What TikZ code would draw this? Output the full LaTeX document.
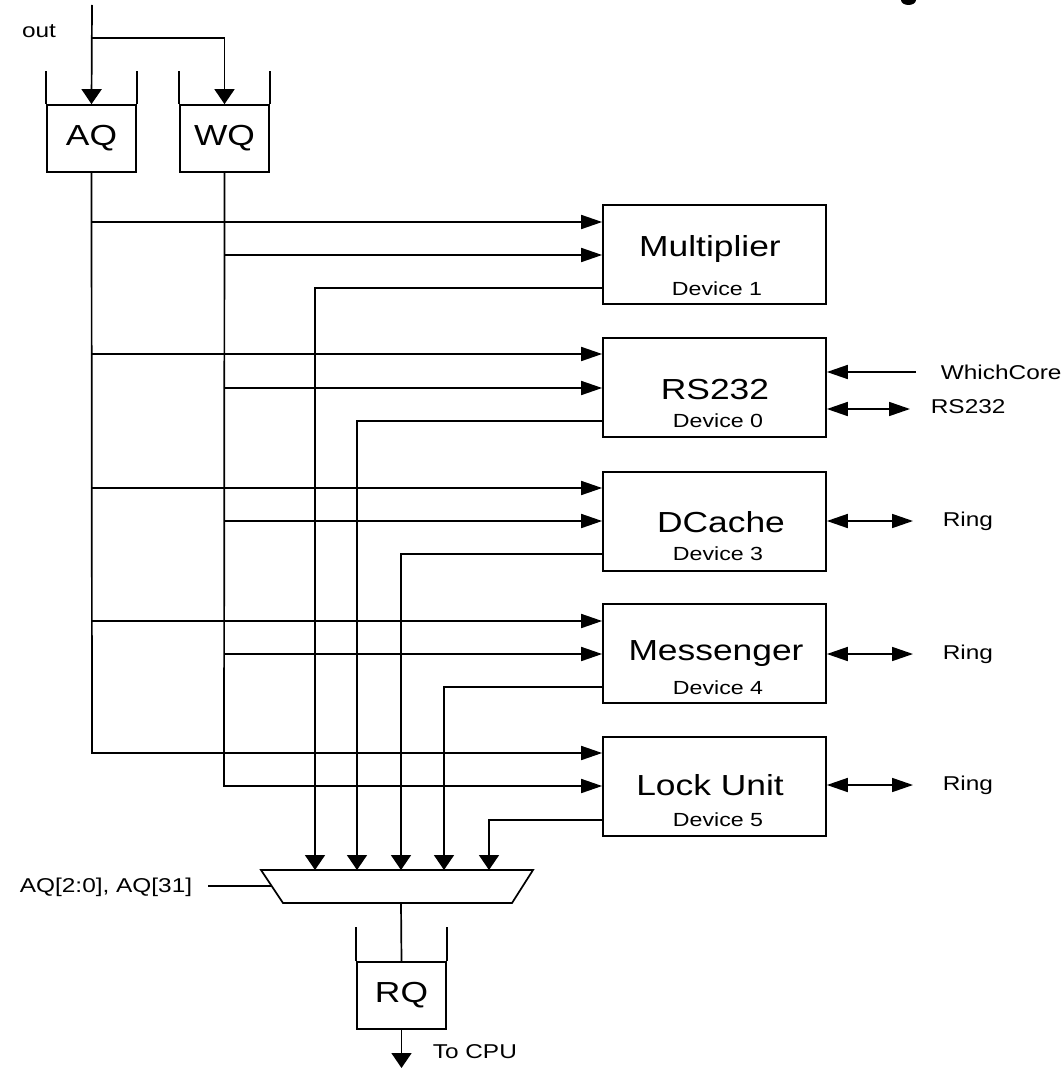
\documentclass[tikz,border=0pt]{standalone}
\usepackage{fontspec}
\setmainfont{Liberation Sans}[FakeStretch=1.22]
\usetikzlibrary{arrows.meta}
\begin{document}
\begin{tikzpicture}[x=1pt,y=-1pt,
  line width=1.7pt,
  harr/.style={-{Triangle[length=21pt,width=14pt]}},
  varr/.style={-{Triangle[length=15pt,width=20pt]}},
  biarr/.style={{Triangle[length=21pt,width=14pt]}-{Triangle[length=21pt,width=14pt]}},
  qbox/.style={draw,minimum width=89pt,minimum height=67pt,inner sep=0pt,font=\fontsize{29}{34}\selectfont},
  devbox/.style={draw,minimum width=223pt,minimum height=99pt,inner sep=0pt},
  title/.style={font=\fontsize{29}{34}\selectfont,inner sep=0pt},
  devlab/.style={font=\fontsize{19}{23}\selectfont,inner sep=0pt},
  lab/.style={font=\fontsize{20}{24}\selectfont,inner sep=0pt}]
\useasboundingbox (0,0) rectangle (1061,1070);
\fill[white] (0,0) rectangle (1061,1070);

% cut-off fragment top right
\fill[black] (908.5,0) ellipse [x radius=7.5, y radius=5];

% queues
\node[qbox] (AQ) at (91.5,138.5) {AQ};
\node[qbox] (WQ) at (224.5,138.5) {WQ};
\node[qbox] (RQ) at (401.5,995.5) {RQ};
\draw (AQ.north west) -- ++(0,-33) (AQ.north east) -- ++(0,-33);
\draw (WQ.north west) -- ++(0,-33) (WQ.north east) -- ++(0,-33);
\draw (RQ.north west) -- ++(0,-34) (RQ.north east) -- ++(0,-34);

% input
\coordinate (in) at (92,5);
\node[lab,anchor=center] (outlab) at (39,31) {out};
\draw[varr] (in) -- (AQ.north);
\coordinate (split) at (92,38);
\draw[varr] (split) -| (WQ.north);

% devices
\node[devbox] (mult) at (714.5,254.5) {};
\node[devbox] (rs)   at (714.5,387.5) {};
\node[devbox] (dc)   at (714.5,521.5) {};
\node[devbox] (msg)  at (714.5,653.5) {};
\node[devbox] (lock) at (714.5,786.5) {};

\node[title] (t1) at (710,249) {Multiplier};
\node[devlab] (d1) at (717,289) {Device 1};
\node[title] (t0) at (715,390) {RS232};
\node[devlab] (d0) at (718,421) {Device 0};
\node[title] (t3) at (721,522) {DCache};
\node[devlab] (d3) at (718,554) {Device 3};
\node[title] (t4) at (716,654) {Messenger};
\node[devlab] (d4) at (718,688) {Device 4};
\node[title] (t5) at (710,785) {Lock Unit};
\node[devlab] (d5) at (718,820) {Device 5};

% AQ trunk and branches
\draw[harr] (AQ.south) -- (92,753) -- (lock.west |- 0,753);
\draw[harr] (92,222) -- (mult.west |- 0,222);
\draw[harr] (92,354) -- (rs.west |- 0,354);
\draw[harr] (92,488) -- (dc.west |- 0,488);
\draw[harr] (92,621) -- (msg.west |- 0,621);

% WQ trunk and branches
\draw[harr] (WQ.south) -- (224,786) -- (lock.west |- 0,786);
\draw[harr] (224,255) -- (mult.west |- 0,255);
\draw[harr] (224,388) -- (rs.west |- 0,388);
\draw[harr] (224,521) -- (dc.west |- 0,521);
\draw[harr] (224,654) -- (msg.west |- 0,654);

% mux
\coordinate (mTL) at (261,870);
\coordinate (mTR) at (533,870);
\coordinate (mBR) at (512,903);
\coordinate (mBL) at (283,903);
\draw (mTL) -- (mTR) -- (mBR) -- (mBL) -- cycle;
\coordinate (m1) at (315,870);
\coordinate (m2) at (357,870);
\coordinate (m3) at (401,870);
\coordinate (m4) at (444,870);
\coordinate (m5) at (489,870);
\coordinate (mL) at (271,886);
\coordinate (mOut) at (401,903);

\draw[varr] (mult.west |- 0,288) -| (m1);
\draw[varr] (rs.west |- 0,421) -| (m2);
\draw[varr] (dc.west |- 0,554) -| (m3);
\draw[varr] (msg.west |- 0,687) -| (m4);
\draw[varr] (lock.west |- 0,820) -| (m5);

\node[lab] (ctrl) at (106,887) {AQ[2:0], AQ[31]};
\draw (208,886) -- (mL);

\draw (mOut) -- (RQ.north);
\coordinate (cpu) at (401.5,1068);
\draw[varr] (RQ.south) -- (cpu);
\node[lab,anchor=west] (cpulab) at (432,1052) {To CPU};

% right side
\node[lab,anchor=west] (wc) at (940,372) {WhichCore};
\draw[harr] ([xshift=-24pt]wc.west) -- (rs.east |- wc);
\node[lab,anchor=west] (rsx) at (930,407) {RS232};
\draw[biarr] (rs.east |- 0,409) -- (910,409);
\node[lab,anchor=west] (r3) at (942,521) {Ring};
\draw[biarr] (dc.east |- r3) -- ([xshift=-29pt]r3.west);
\node[lab,anchor=west] (r4) at (942,654) {Ring};
\draw[biarr] (msg.east |- r4) -- ([xshift=-29pt]r4.west);
\node[lab,anchor=west] (r5) at (942,785) {Ring};
\draw[biarr] (lock.east |- r5) -- ([xshift=-29pt]r5.west);
\end{tikzpicture}
\end{document}
